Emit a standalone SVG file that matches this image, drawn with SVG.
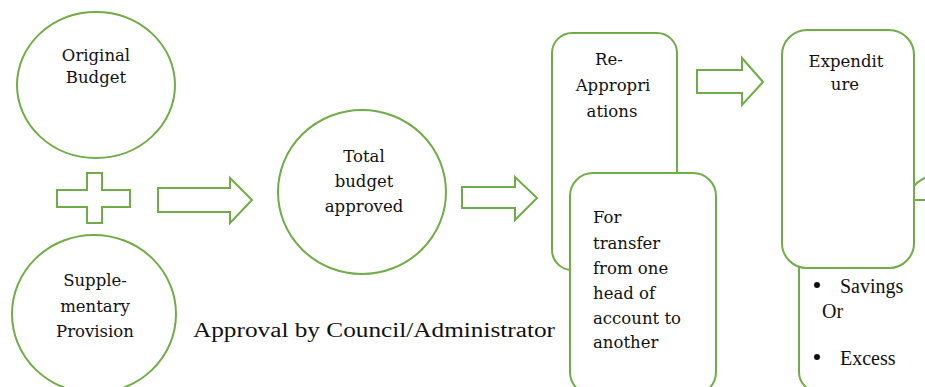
<svg xmlns="http://www.w3.org/2000/svg" width="925" height="387" viewBox="0 0 925 387">
  <style>
    .shape { fill: #ffffff; stroke: #70AD47; stroke-width: 2; }
    .block { fill: #ffffff; stroke: #70AD47; stroke-width: 2; stroke-linejoin: miter; }
    .lbl { font-family: "DejaVu Serif", "Liberation Serif", serif; font-size: 16.5px; fill: #111111; text-anchor: middle; }
    .lft { font-family: "DejaVu Serif", "Liberation Serif", serif; font-size: 16.5px; fill: #111111; }
    .tnr { font-family: "Liberation Serif", "Times New Roman", serif; font-size: 20px; fill: #111111; }
  </style>
  <rect x="0" y="0" width="925" height="387" fill="#ffffff"/>

  <!-- Budget sources -->
  <g id="original-budget">
    <ellipse class="shape" cx="96" cy="85" rx="79" ry="73"/>
    <text class="lbl" x="96" y="61">Original</text>
    <text class="lbl" x="96" y="83">Budget</text>
  </g>

  <g id="supplementary-provision">
    <ellipse class="shape" cx="94" cy="314" rx="82" ry="79"/>
    <text class="lbl" x="95" y="286">Supple-</text>
    <text class="lbl" x="95" y="312">mentary</text>
    <text class="lbl" x="95" y="337">Provision</text>
  </g>

  <g id="total-budget">
    <ellipse class="shape" cx="362" cy="192" rx="84" ry="82"/>
    <text class="lbl" x="364" y="162">Total</text>
    <text class="lbl" x="364" y="187">budget</text>
    <text class="lbl" x="364" y="212">approved</text>
  </g>

  <!-- Re-appropriation stage -->
  <g id="re-appropriations">
    <rect class="shape" x="552" y="33" width="125" height="237" rx="20" ry="20"/>
    <text class="lbl" x="609" y="65">Re-</text>
    <text class="lbl" x="613" y="91">Appropri</text>
    <text class="lbl" x="612" y="117">ations</text>
  </g>

  <g id="transfer-note">
    <rect class="shape" x="570" y="173" width="146" height="222" rx="23" ry="23"/>
    <text class="lft" x="593" y="223">For</text>
    <text class="lft" x="593" y="249">transfer</text>
    <text class="lft" x="593" y="274">from one</text>
    <text class="lft" x="593" y="299">head of</text>
    <text class="lft" x="593" y="324">account to</text>
    <text class="lft" x="593" y="348">another</text>
  </g>

  <!-- Outcome stage -->
  <g id="next-stage">
    <path d="M912,189 Q917,181 927,177" fill="none" stroke="#70AD47" stroke-width="2"/>
  </g>

  <g id="outcome">
    <rect class="shape" x="799" y="200" width="160" height="192" rx="20" ry="20"/>
    <circle cx="817" cy="285" r="3" fill="#111111"/>
    <text class="tnr" x="840" y="293">Savings</text>
    <text class="tnr" x="822" y="318">Or</text>
    <circle cx="817" cy="357" r="3" fill="#111111"/>
    <text class="tnr" x="840" y="365">Excess</text>
  </g>

  <g id="expenditure">
    <rect class="shape" x="782" y="30" width="132" height="238" rx="25" ry="25"/>
    <text class="lbl" x="846" y="67">Expendit</text>
    <text class="lbl" x="845" y="90">ure</text>
  </g>

  <!-- Block connectors -->
  <g id="connectors">
    <path class="block" d="M87,173 H102 V190 H130 V207 H102 V223 H87 V207 H57 V190 H87 Z"/>
    <path class="block" d="M158,188 H230 V178 L252,200 L230,223 V212 H158 Z"/>
    <path class="block" d="M462,187 H515 V177 L537,198 L515,220 V208 H462 Z"/>
    <path class="block" d="M697,70 H742 V58 L763,82 L742,105 V93 H697 Z"/>
  </g>

  <g id="approval-caption">
    <text class="tnr" x="193" y="337" font-size="22" textLength="362" lengthAdjust="spacingAndGlyphs">Approval by Council/Administrator</text>
  </g>
</svg>
